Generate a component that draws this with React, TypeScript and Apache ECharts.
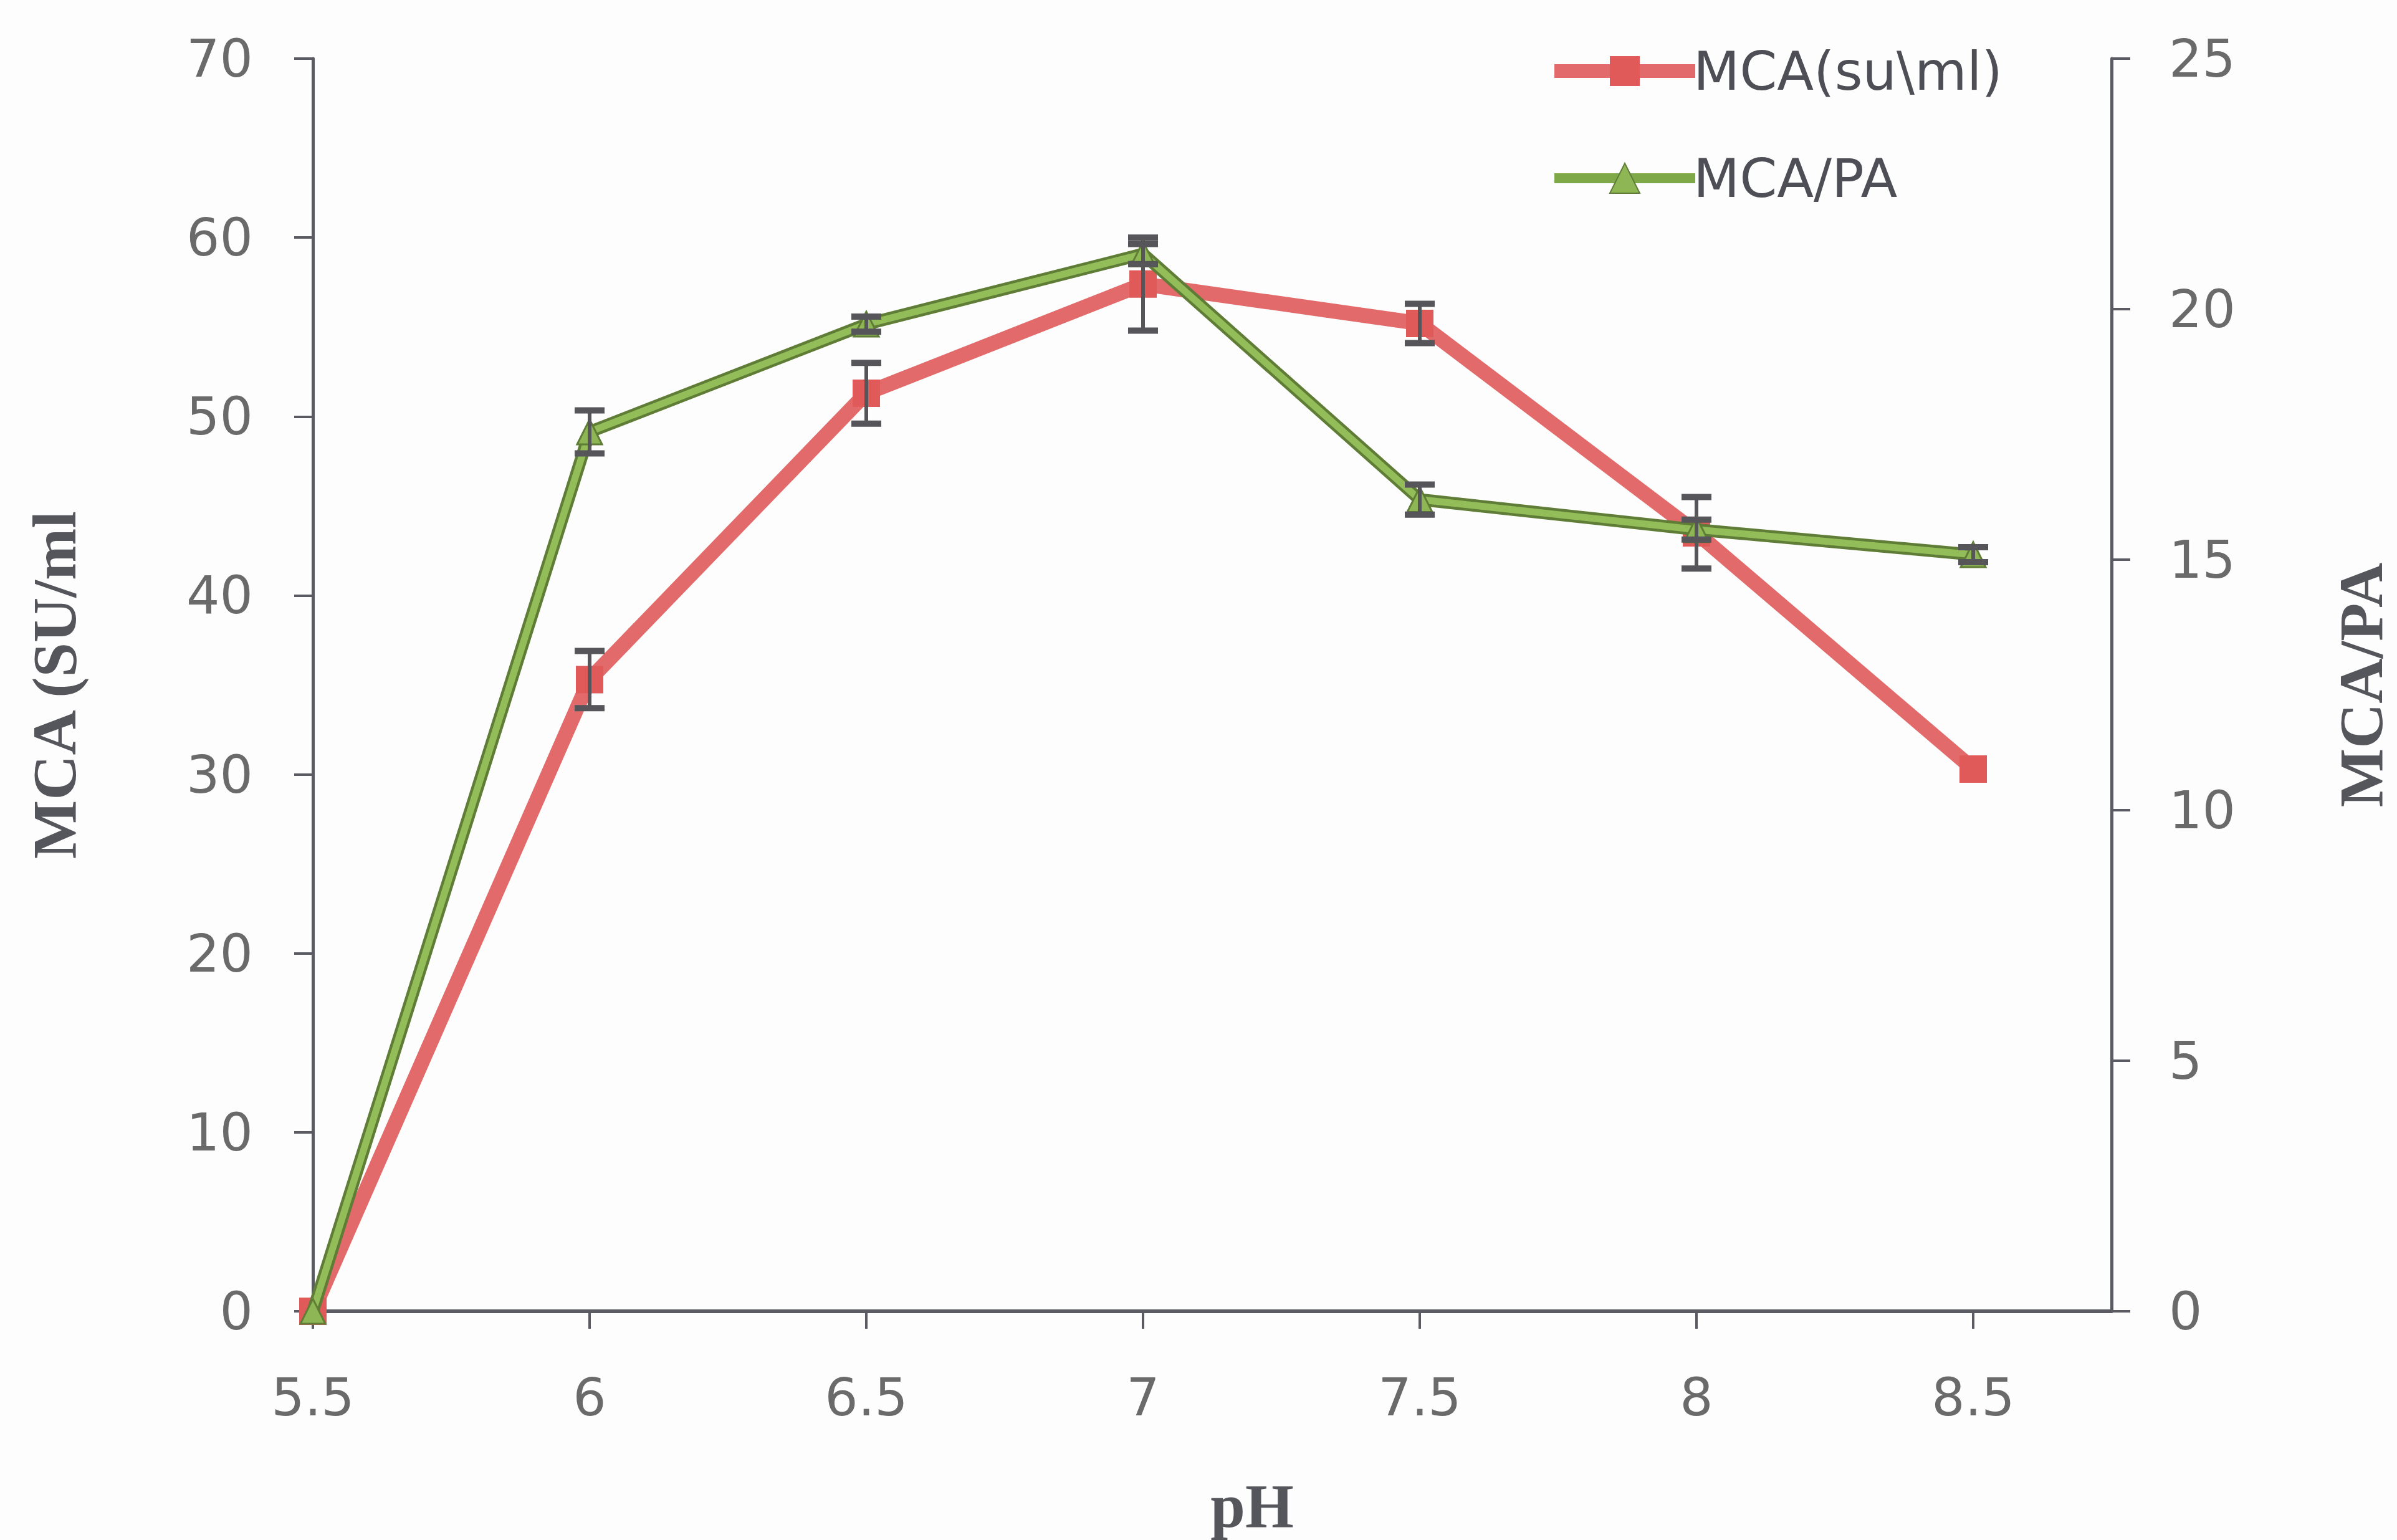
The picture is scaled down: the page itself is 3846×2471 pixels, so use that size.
import React, { useEffect, useRef } from 'react';
import * as echarts from 'echarts';

// pH values (x axis)
const phValues = [5.5, 6, 6.5, 7, 7.5, 8, 8.5];
// MCA (SU/ml), left axis
const mcaValues = [0, 35.3, 51.3, 57.4, 55.2, 43.5, 30.3];
const mcaErrors = [0, 1.6, 1.7, 2.6, 1.1, 2.0, 0];
// MCA/PA, right axis
const mcaPaValues = [0, 17.55, 19.7, 21.1, 16.2, 15.6, 15.1];
const mcaPaErrors = [0, 0.43, 0.15, 0.2, 0.3, 0.2, 0.15];
// x tick labels
const phTicks = [5.5, 6, 6.5, 7, 7.5, 8, 8.5];

const seriesNames = ['MCA(su\\ml)', 'MCA/PA'];

const AXIS_COLOR = '#5a5a62';
const LABEL_COLOR = '#6a6a6a';
const TITLE_COLOR = '#55555c';
const ERR_COLOR = '#55555a';

function errRender(params: any, api: any) {
  const x = api.value(0);
  const lo = api.value(1);
  const hi = api.value(2);
  if (!(hi - lo > 0)) return null;
  const top = api.coord([x, hi]);
  const bot = api.coord([x, lo]);
  const hw = 24;
  return {
    type: 'group',
    children: [
      { type: 'line', shape: { x1: top[0], y1: top[1], x2: bot[0], y2: bot[1] }, style: { stroke: ERR_COLOR, lineWidth: 6 } },
      { type: 'line', shape: { x1: top[0] - hw, y1: top[1], x2: top[0] + hw, y2: top[1] }, style: { stroke: ERR_COLOR, lineWidth: 10 } },
      { type: 'line', shape: { x1: bot[0] - hw, y1: bot[1], x2: bot[0] + hw, y2: bot[1] }, style: { stroke: ERR_COLOR, lineWidth: 10 } },
    ],
  };
}

export default function App() {
  const ref = useRef<HTMLDivElement>(null);
  useEffect(() => {
    document.body.style.margin = '0';
    const chart = echarts.init(ref.current!, undefined, { renderer: 'svg' });
    const mcaData = phValues.map((x, i) => [x, mcaValues[i]]);
    const mcaPaData = phValues.map((x, i) => [x, mcaPaValues[i]]);
    const mcaErrData = phValues.map((x, i) => [x, mcaValues[i] - mcaErrors[i], mcaValues[i] + mcaErrors[i]]);
    const mcaPaErrData = phValues.map((x, i) => [x, mcaPaValues[i] - mcaPaErrors[i], mcaPaValues[i] + mcaPaErrors[i]]);

    chart.setOption({
      animation: false,
      backgroundColor: '#fdfdfd',
      grid: { left: 502, right: 3846 - 3392, top: 94, bottom: 2471 - 2108, containLabel: false },
      legend: {
        data: [
          { name: seriesNames[0], lineStyle: { width: 22, color: '#e36a6a' } },
          { name: seriesNames[1], lineStyle: { width: 16, color: '#7fa848' } },
        ],
        orient: 'vertical',
        left: 2478,
        top: 66,
        itemWidth: 226,
        itemHeight: 60,
        itemGap: 86,
        textStyle: { fontFamily: 'DejaVu Sans', fontSize: 86, color: '#4e4e56', padding: [0, 0, 0, -8] },
      },
      xAxis: {
        type: 'value',
        min: 5.5,
        max: 8.75,
        interval: 0.5,
        name: 'pH',
        nameLocation: 'middle',
        nameGap: 262,
        nameTextStyle: { fontFamily: 'Liberation Serif', fontWeight: 'bold', fontSize: 100, color: TITLE_COLOR, padding: [0, 0, 0, 128] },
        axisLine: { show: true, onZero: false, lineStyle: { color: AXIS_COLOR, width: 6 } },
        axisTick: { show: true, customValues: phTicks, length: 28, lineStyle: { color: AXIS_COLOR, width: 4 } },
        axisLabel: { customValues: phTicks, margin: 96, fontFamily: 'DejaVu Sans', fontSize: 84, color: LABEL_COLOR },
        splitLine: { show: false },
      },
      yAxis: [
        {
          type: 'value',
          min: 0,
          max: 70,
          interval: 10,
          position: 'left',
          name: 'MCA (SU/ml',
          nameLocation: 'middle',
          nameRotate: 90,
          nameGap: 365,
          nameTextStyle: { fontFamily: 'Liberation Serif', fontWeight: 'bold', fontSize: 100, color: TITLE_COLOR },
          axisLine: { show: true, lineStyle: { color: AXIS_COLOR, width: 5 } },
          axisTick: { show: true, length: 30, lineStyle: { color: AXIS_COLOR, width: 4 } },
          axisLabel: { margin: 96, fontFamily: 'DejaVu Sans', fontSize: 84, color: LABEL_COLOR },
          splitLine: { show: false },
        },
        {
          type: 'value',
          min: 0,
          max: 25,
          interval: 5,
          position: 'right',
          name: 'MCA/PA',
          nameLocation: 'middle',
          nameRotate: 90,
          nameGap: 350,
          nameTextStyle: { fontFamily: 'Liberation Serif', fontWeight: 'bold', fontSize: 100, color: TITLE_COLOR },
          axisLine: { show: true, lineStyle: { color: AXIS_COLOR, width: 5 } },
          axisTick: { show: true, length: 30, lineStyle: { color: AXIS_COLOR, width: 4 } },
          axisLabel: { margin: 92, fontFamily: 'DejaVu Sans', fontSize: 84, color: LABEL_COLOR },
          splitLine: { show: false },
        },
      ],
      series: [
        {
          name: seriesNames[0],
          type: 'line',
          yAxisIndex: 0,
          data: mcaData,
          symbol: 'rect',
          symbolSize: 44,
          lineStyle: { color: '#e36a6a', width: 24 },
          itemStyle: { color: '#e05a5a' },
          z: 2,
        },
        {
          name: 'mcaErr',
          type: 'custom',
          yAxisIndex: 0,
          data: mcaErrData,
          encode: { x: 0, y: [1, 2] },
          renderItem: errRender,
          z: 3,
        },
        {
          name: 'mcaPaOutline',
          type: 'line',
          yAxisIndex: 1,
          data: mcaPaData,
          symbol: 'none',
          lineStyle: { color: '#5f7d36', width: 20 },
          z: 4,
          silent: true,
        },
        {
          name: seriesNames[1],
          type: 'line',
          yAxisIndex: 1,
          data: mcaPaData,
          symbol: 'triangle',
          symbolSize: 40,
          lineStyle: { color: '#93bd58', width: 11 },
          itemStyle: { color: '#8fb654', borderColor: '#5f7d36', borderWidth: 3 },
          z: 5,
        },
        {
          name: 'mcaPaErr',
          type: 'custom',
          yAxisIndex: 1,
          data: mcaPaErrData,
          encode: { x: 0, y: [1, 2] },
          renderItem: errRender,
          z: 6,
        },
      ],
    });
    return () => chart.dispose();
  }, []);
  return <div ref={ref} style={{ position: 'absolute', left: 0, top: 0, width: 3846, height: 2471 }} />;
}
